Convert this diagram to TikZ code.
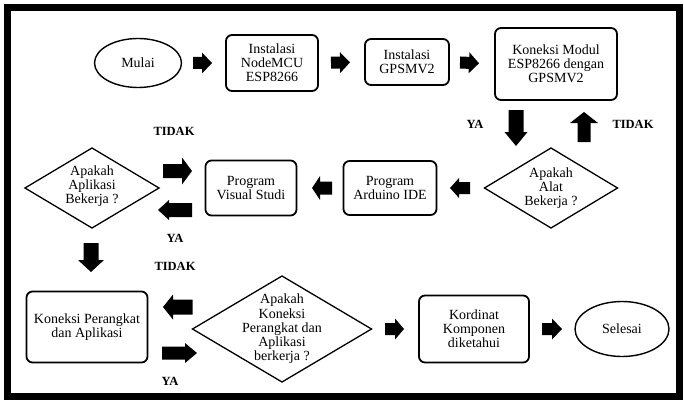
\documentclass[tikz,border=0pt]{standalone}
\usepackage{fontspec}
\setmainfont{Liberation Serif}
\usetikzlibrary{shapes.geometric,calc}
\tikzset{
  baS/.store in=\baS, baE/.store in=\baE, baW/.store in=\baW,
  baH/.store in=\baH, baL/.store in=\baL,
  baS=0pt, baE=0pt, baW=6pt, baH=10.5pt, baL=10pt,
  barrow/.style={fill=black, draw=none, to path={
    ($(\tikztostart)!\baS!(\tikztotarget)$) coordinate (bA)
    ($(\tikztotarget)!\baE!(\tikztostart)$) coordinate (bB)
    ($(bB)!\baL!(bA)$) coordinate (bC)
    ($(bA)!\baW!90:(bB)$) -- ($(bC)!\baW!-90:(bA)$) -- ($(bC)!\baH!-90:(bA)$) -- (bB)
    -- ($(bC)!\baH!90:(bA)$) -- ($(bC)!\baW!90:(bA)$) -- ($(bA)!\baW!-90:(bB)$) -- cycle}},
  txt/.style={align=center, inner sep=0pt, font=\fontsize{14}{13.9}\selectfont},
  box/.style={txt, draw, rectangle, rounded corners=6pt, line width=1.8pt, outer sep=0pt},
  dia/.style={draw, diamond, line width=1.3pt, inner sep=0pt, outer sep=0pt},
  ell/.style={txt, draw, ellipse, line width=1.4pt, outer sep=0pt},
  lbl/.style={inner sep=0pt, font=\fontsize{12.5}{13}\selectfont\bfseries},
}
\begin{document}
\begin{tikzpicture}[x=1pt, y=-1pt]
\useasboundingbox[fill=white] (0,0) rectangle (684,401);
\draw[line width=7pt] (7.5,8) rectangle (679,396.5);

% row 1
\node[ell, minimum width=87pt, minimum height=49pt] (mulai) at (138,63) {Mulai};
\node[box, minimum width=92pt, minimum height=56pt] (inst1) at (272,63) {Instalasi\\NodeMCU\\ESP8266};
\node[box, minimum width=84pt, minimum height=46pt] (inst2) at (407,62) {Instalasi\\GPSMV2};
\node[box, minimum width=122pt, minimum height=72pt] (kon) at (556,64) {Koneksi Modul\\ESP8266 dengan\\GPSMV2};

% row 2
\node[dia, minimum width=133pt, minimum height=80pt] (alat) at (551,188) {};
\node[txt] (alatT) at (551,188) {Apakah\\Alat\\Bekerja ?};
\node[box, minimum width=93pt, minimum height=54pt] (ard) at (390,188) {Program\\Arduino IDE};
\node[box, minimum width=91pt, minimum height=55pt] (vs) at (251,188) {Program\\Visual Studi};
\node[dia, minimum width=134pt, minimum height=80pt] (apl) at (92,188) {};
\node[txt] (aplT) at (92,186) {Apakah\\Aplikasi\\Bekerja ?};

% row 3
\node[box, minimum width=121pt, minimum height=71pt] (kp) at (87,327) {Koneksi Perangkat\\dan Aplikasi};
\node[dia, minimum width=179pt, minimum height=106pt] (kpa) at (282,329) {};
\node[txt, font=\fontsize{14}{14.3}\selectfont] (kpaT) at (282,329) {Apakah\\Koneksi\\Perangkat dan\\Aplikasi\\berkerja ?};
\node[box, minimum width=110pt, minimum height=67pt] (kord) at (474,329) {Kordinat\\Komponen\\diketahui};
\node[ell, minimum width=94pt, minimum height=55pt] (sel) at (622,329) {Selesai};

% labels
\node[lbl] (ya1) at (475,124) {YA};
\node[lbl] (tidak1) at (633,124) {TIDAK};
\node[lbl] (tidak2) at (174,131) {TIDAK};
\node[lbl] (ya2) at (175,238) {YA};
\node[lbl] (tidak3) at (175,266) {TIDAK};
\node[lbl] (ya3) at (170,381) {YA};

% block arrows
\fill[barrow, baS=11.5pt, baE=14pt] (mulai.east) to (inst1.west);
\fill[barrow, baS=13pt, baE=15pt] (inst1.east) to (inst2.west);
\fill[barrow, baS=11pt, baE=16pt] (inst2.east) to (kon.west);
\fill[barrow, baS=10pt, baE=2pt, baW=7.5pt, baH=11.5pt, baL=14pt] ([xshift=-40pt]kon.south) to ([xshift=-35pt]alat.north);
\fill[barrow, baS=6pt, baE=12pt, baW=6.5pt, baH=14pt, baL=11pt] ([xshift=33pt]alat.north) to ([xshift=28pt]kon.south);
\fill[barrow, baS=14.5pt, baE=13.5pt, baW=6pt, baH=10pt, baL=9pt] (alat.west) to (ard.east);
\fill[barrow, baS=11.5pt, baE=15.5pt, baW=6.5pt, baH=12pt, baL=8pt] (ard.west) to (vs.east);
\fill[barrow, baS=4pt, baE=13.5pt, baW=7pt, baH=13.5pt, baL=10pt] ([yshift=17pt]apl.east) to ([yshift=17pt]vs.west);
\fill[barrow, baS=13.5pt, baE=-1pt, baW=7pt, baH=10pt, baL=11pt] ([yshift=-22pt]vs.west) to ([yshift=-22pt]apl.east);
\fill[barrow, baS=15pt, baE=19.5pt, baW=7.5pt, baH=13pt, baL=12pt] ([xshift=-1pt]apl.south) to ([xshift=4pt]kp.north);
\fill[barrow, baS=0pt, baE=15.5pt, baW=7.5pt, baH=12.5pt, baL=10pt] ([yshift=22pt]kpa.west) to ([yshift=20pt]kp.east);
\fill[barrow, baS=14.5pt, baE=-4.5pt, baW=6.5pt, baH=10pt, baL=12pt] ([yshift=-26pt]kp.east) to ([yshift=-24pt]kpa.west);
\fill[barrow, baS=13.5pt, baE=15pt, baW=6pt, baH=10.5pt, baL=9pt] (kpa.east) to (kord.west);
\fill[barrow, baS=13pt, baE=13pt] (kord.east) to (sel.west);
\end{tikzpicture}
\end{document}
